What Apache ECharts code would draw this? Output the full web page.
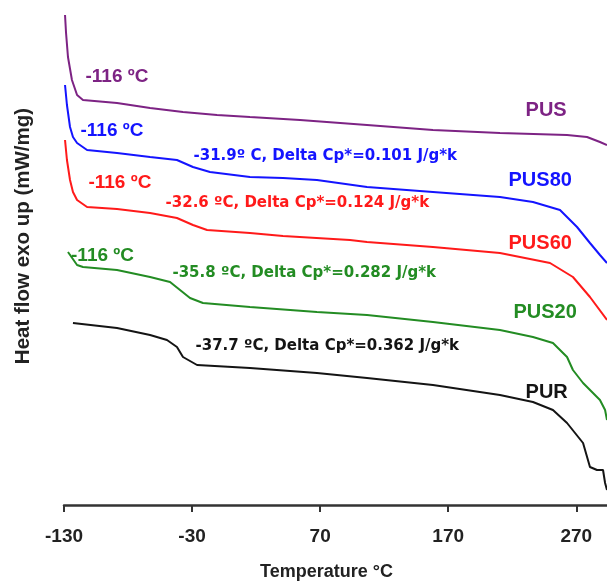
<!DOCTYPE html>
<html>
<head>
<meta charset="utf-8">
<script src="https://cdn.jsdelivr.net/npm/echarts@6/dist/echarts.min.js"></script>
<style>
  html, body { margin: 0; padding: 0; background: #fff; }
  #main { width: 607px; height: 581px; }
</style>
</head>
<body>
<div id="main"></div>
<script>
var myChart = echarts.init(document.getElementById('main'));

// x ticks shown on the temperature axis
var xTicks = [-130, -30, 70, 170, 270];

// DSC curves: [temperature (°C), heat flow (arbitrary, exo up)]
var pus = [[-129.2, 4.90], [-128.4, 4.72], [-126.9, 4.48], [-123.8, 4.25], [-119.8, 4.10], [-115.2, 4.05],
    [-88.6, 4.02], [-62.8, 3.97], [-37.1, 3.93], [-10.5, 3.90], [15.2, 3.88], [54.3, 3.85], [106.6, 3.80],
    [158.1, 3.75], [210.4, 3.72], [262.8, 3.70], [278.4, 3.68], [288.5, 3.63], [294, 3.60]];
var pus80 = [[-129.2, 4.20], [-127.7, 4.00], [-125.3, 3.78], [-123.0, 3.68], [-119.8, 3.62], [-112.0, 3.55],
    [-88.6, 3.52], [-62.8, 3.48], [-41.8, 3.45], [-29.3, 3.38], [-16.0, 3.33], [15.2, 3.28], [41.0, 3.27],
    [67.5, 3.25], [106.6, 3.18], [158.1, 3.13], [210.4, 3.08], [236.2, 3.03], [257.3, 2.95], [270.6, 2.78],
    [280.7, 2.62], [288.5, 2.50], [294, 2.42]];
var pus60 = [[-129.2, 3.65], [-127.7, 3.45], [-125.3, 3.25], [-123.0, 3.13], [-119.8, 3.05], [-112.0, 2.98],
    [-88.6, 2.96], [-62.8, 2.92], [-41.8, 2.87], [-29.3, 2.80], [-18.3, 2.75], [15.2, 2.72], [41.0, 2.69],
    [93.3, 2.65], [106.6, 2.63], [158.1, 2.58], [210.4, 2.52], [249.5, 2.42], [267.4, 2.28], [280.7, 2.08],
    [294, 1.85]];
var pus20 = [[-126.9, 2.53], [-119.8, 2.40], [-115.2, 2.38], [-88.6, 2.35], [-62.8, 2.28], [-47.2, 2.23],
    [-39.4, 2.15], [-31.6, 2.07], [-21.5, 2.02], [15.2, 1.98], [67.5, 1.93], [106.6, 1.90], [158.1, 1.83],
    [210.4, 1.75], [236.2, 1.68], [251.8, 1.62], [262.8, 1.48], [267.4, 1.35], [275.3, 1.22], [288.5, 1.05],
    [292.5, 0.95], [294, 0.85]];
var pur = [[-123.0, 1.82], [-88.6, 1.77], [-62.8, 1.70], [-49.6, 1.65], [-41.8, 1.58], [-37.1, 1.48],
    [-26.1, 1.40], [15.2, 1.37], [67.5, 1.32], [106.6, 1.27], [158.1, 1.20], [210.4, 1.10], [236.2, 1.03],
    [251.8, 0.95], [262.8, 0.82], [275.3, 0.62], [280.7, 0.38], [286.2, 0.35], [290.9, 0.35], [292.5, 0.22],
    [294, 0.15]];

// annotations: [x, y, text, kind]
var notesPus = [[-113.6, 4.28, '-116 ºC', 'tg'], [230.0, 3.95, 'PUS', 'name']];
var notesPus80 = [[-117.5, 3.74, '-116 ºC', 'tg'], [-29.3, 3.49, '-31.9º C, Delta Cp*=0.101 J/g*k', 'cp'], [216.7, 3.25, 'PUS80', 'name']];
var notesPus60 = [[-111.3, 3.22, '-116 ºC', 'tg'], [-51.1, 3.02, '-32.6 ºC, Delta Cp*=0.124 J/g*k', 'cp'], [216.7, 2.62, 'PUS60', 'name']];
var notesPus20 = [[-124.9, 2.49, '-116 ºC', 'tg'], [-45.7, 2.32, '-35.8 ºC, Delta Cp*=0.282 J/g*k', 'cp'], [220.6, 1.93, 'PUS20', 'name']];
var notesPur = [[-27.7, 1.59, '-37.7 ºC, Delta Cp*=0.362 J/g*k', 'cp'], [230.0, 1.13, 'PUR', 'name']];

var fonts = {
    tg: { fontFamily: 'Liberation Sans', fontSize: 19 },
    cp: { fontFamily: 'DejaVu Sans', fontSize: 15 },
    name: { fontFamily: 'Liberation Sans', fontSize: 20 }
};

function curve(name, data, color) {
    return {
        name: name,
        type: 'line',
        data: data,
        showSymbol: false,
        symbol: 'none',
        lineStyle: { color: color, width: 2 },
        z: 2
    };
}

function notes(name, list, color) {
    return {
        name: name + ' notes',
        type: 'scatter',
        silent: true,
        z: 3,
        symbol: 'circle',
        symbolSize: 1,
        itemStyle: { color: 'rgba(0,0,0,0)', opacity: 1 },
        data: list.map(function (n) {
            return {
                value: [n[0], n[1]],
                label: {
                    show: true,
                    position: 'right',
                    distance: 0,
                    formatter: n[2],
                    color: color,
                    opacity: 1,
                    fontWeight: 'bold',
                    fontFamily: fonts[n[3]].fontFamily,
                    fontSize: fonts[n[3]].fontSize,
                    verticalAlign: 'middle'
                }
            };
        })
    };
}

var option = {
    animation: false,
    backgroundColor: '#ffffff',
    grid: { left: 64, right: 0, top: 5, bottom: 76, outerBoundsMode: 'none', containLabel: false },
    xAxis: {
        type: 'value',
        min: -130,
        max: 294,
        name: 'Temperature °C',
        nameLocation: 'middle',
        nameGap: 58,
        nameTextStyle: {
            fontFamily: 'Liberation Sans',
            fontSize: 18,
            fontWeight: 'bold',
            color: '#222',
            padding: [0, 18, 0, 0]
        },
        axisLine: { lineStyle: { color: '#333', width: 2.5 } },
        axisTick: {
            customValues: xTicks,
            length: 7,
            lineStyle: { color: '#333', width: 2 }
        },
        axisLabel: {
            customValues: xTicks,
            margin: 22,
            fontFamily: 'Liberation Sans',
            fontSize: 19,
            fontWeight: 'bold',
            color: '#222'
        },
        splitLine: { show: false }
    },
    yAxis: {
        type: 'value',
        min: 0,
        max: 5,
        axisLine: { show: false },
        axisTick: { show: false },
        axisLabel: { show: false },
        splitLine: { show: false }
    },
    graphic: [{
        type: 'text',
        x: 23,
        y: 236,
        rotation: Math.PI / 2,
        style: {
            text: 'Heat flow exo up (mW/mg)',
            fontFamily: 'Liberation Sans',
            fontSize: 20.5,
            fontWeight: 'bold',
            fill: '#222',
            align: 'center',
            verticalAlign: 'middle'
        }
    }],
    series: [
        curve('PUS', pus, '#7d2384'),
        curve('PUS80', pus80, '#1414ff'),
        curve('PUS60', pus60, '#ff1a1a'),
        curve('PUS20', pus20, '#238c23'),
        curve('PUR', pur, '#141414'),
        notes('PUS', notesPus, '#7d2384'),
        notes('PUS80', notesPus80, '#1414ff'),
        notes('PUS60', notesPus60, '#ff1a1a'),
        notes('PUS20', notesPus20, '#238c23'),
        notes('PUR', notesPur, '#141414')
    ]
};
myChart.setOption(option);
</script>
</body>
</html>
